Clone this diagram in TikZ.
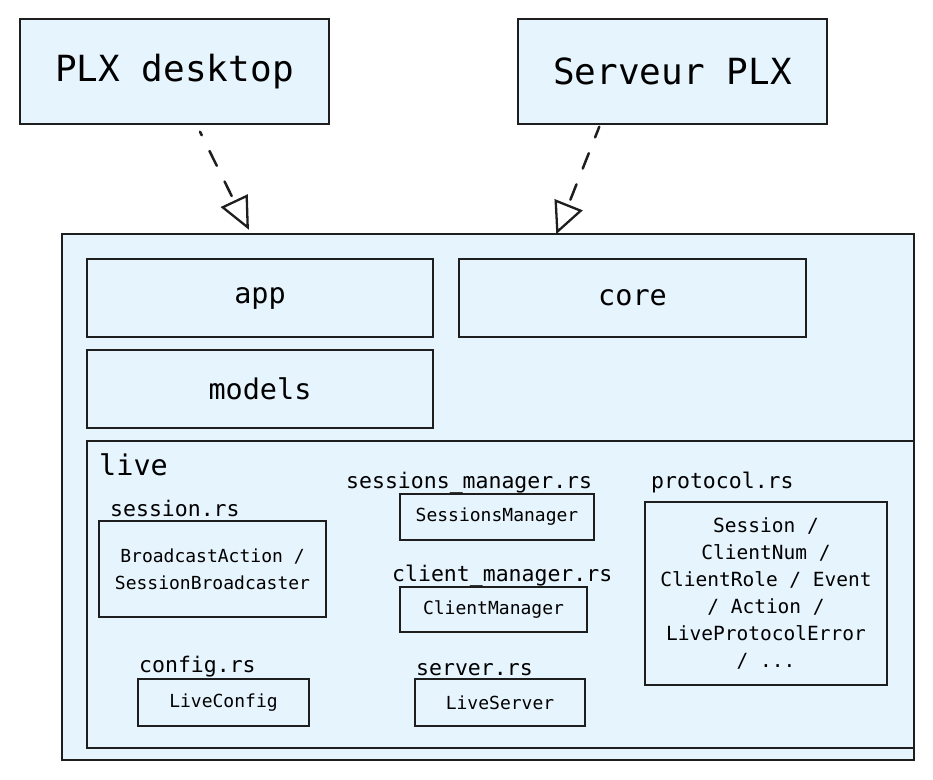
\documentclass[tikz,border=0pt]{standalone}
\usepackage{fontspec}
\setmonofont{DejaVu Sans Mono}
\definecolor{boxfill}{RGB}{230,244,253}
\definecolor{lineclr}{RGB}{30,30,30}
\tikzset{
  px/.style={x=1pt,y=-1pt},
  pkg/.style={draw=lineclr,line width=1.9pt,fill=boxfill},
  sub/.style={draw=lineclr,line width=1.7pt,fill=boxfill},
  big/.style={font=\ttfamily\fontsize{36}{40}\selectfont},
  mid/.style={font=\ttfamily\fontsize{28.5}{32}\selectfont},
  lbl/.style={font=\ttfamily\fontsize{21.5}{24}\selectfont,anchor=base west,inner sep=0pt},
  cls/.style={font=\ttfamily\fontsize{18}{27}\selectfont,align=center},
  prot/.style={font=\ttfamily\fontsize{19.5}{27}\selectfont,align=center},
  real/.style={draw=lineclr,line width=2.5pt,line cap=round},
  head/.style={draw=lineclr,line width=2.3pt,line join=miter},
}
\begin{document}
\begin{tikzpicture}[px]
\useasboundingbox (0,0) rectangle (933,779);
% top boxes
\draw[pkg] (20,19) rectangle (329,124);
\node[big] (desk) at (174.5,71.5) {PLX desktop};
\draw[pkg] (518,19) rectangle (827,124);
\node[big] (serv) at (672.5,71.5) {Serveur PLX};
% outer package
\draw[pkg] (62,234) rectangle (914,760);
% realization connectors
\coordinate (t1s) at (200,131.7);
\coordinate (t1e) at (231.7,196);
\coordinate (h1a) at (222.7,207.3);
\coordinate (h1b) at (246.7,196);
\coordinate (h1c) at (247.7,227.3);
\coordinate (t2s) at (599.3,126.7);
\coordinate (t2e) at (570,200.7);
\coordinate (h2a) at (555.7,200.7);
\coordinate (h2b) at (580.7,210.7);
\coordinate (h2c) at (557.3,231.7);
\draw[real,dash pattern=on 16.5pt off 17.5pt,dash phase=12.5pt] (t1s) -- (t1e);
\draw[head] (h1a) -- (h1b) -- (h1c) -- cycle;
\draw[real,dash pattern=on 16.5pt off 17pt,dash phase=5pt] (t2s) -- (t2e);
\draw[head] (h2a) -- (h2b) -- (h2c) -- cycle;
% modules
\draw[pkg] (87,259) rectangle (433,337);
\node[mid] (app) at (260,298) {app};
\draw[pkg] (459,259) rectangle (806,337);
\node[mid] (core) at (632.5,298) {core};
\draw[pkg] (87,350) rectangle (433,428);
\node[mid] (models) at (260,389) {models};
% live
\draw[pkg] (87,441) rectangle (914,748);
\node[mid,anchor=base west,inner sep=0pt] (live) at (99,475) {live};
% boxes
\draw[sub] (99,521) rectangle (326,617);
\draw[sub] (400,494) rectangle (594,540);
\draw[sub] (400,587) rectangle (587,632);
\draw[sub] (138,679) rectangle (309,726);
\draw[sub] (415,679) rectangle (585,726);
\draw[sub] (645,502) rectangle (887,685);
% labels and contents
\node[lbl] (sessl) at (110,516) {session.rs};
\node[cls] (sess) at (212.5,569) {BroadcastAction /\\SessionBroadcaster};
\node[lbl] (smgrl) at (346,488) {sessions\_manager.rs};
\node[cls] (smgr) at (497,517) {SessionsManager};
\node[lbl] (cmgrl) at (392,581) {client\_manager.rs};
\node[cls] (cmgr) at (493.5,609.5) {ClientManager};
\node[lbl] (cfgl) at (139,672) {config.rs};
\node[cls] (cfg) at (223.5,702.5) {LiveConfig};
\node[lbl] (srvl) at (416,675) {server.rs};
\node[cls] (srv) at (500,702.5) {LiveServer};
\node[lbl] (protl) at (651,488) {protocol.rs};
\node[prot] (prot) at (766,593) {Session /\\ClientNum /\\ClientRole / Event\\/ Action /\\LiveProtocolError\\/ ...};
\end{tikzpicture}
\end{document}
